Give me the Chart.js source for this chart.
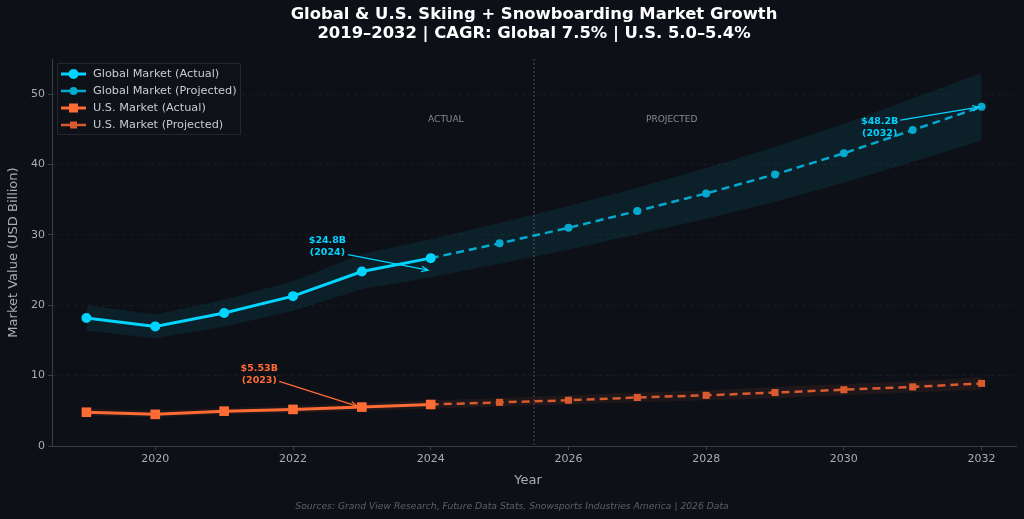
<!DOCTYPE html>
<html>
<head>
<meta charset="utf-8">
<script src="https://cdn.jsdelivr.net/npm/chart.js@4.4.1/dist/chart.umd.min.js"></script>
<style>
html,body{margin:0;padding:0;background:#0d1117;}
#wrap{width:1024px;height:519px;position:relative;}
</style>
</head>
<body>
<div id="wrap"><canvas id="c" width="1024" height="519"></canvas></div>
<script>
// ---- Data ----
const actualYears = [2019, 2020, 2021, 2022, 2023, 2024];
const projYears = [2024, 2025, 2026, 2027, 2028, 2029, 2030, 2031, 2032];
const allYears = [2019, 2020, 2021, 2022, 2023, 2024, 2025, 2026, 2027, 2028, 2029, 2030, 2031, 2032];

const globalActual = [18.2, 17.0, 18.9, 21.3, 24.8, 26.7];
const globalProj = [26.7, 28.8, 31.0, 33.4, 35.9, 38.6, 41.6, 44.9, 48.2];
const usActual = [4.8, 4.5, 4.95, 5.2, 5.53, 5.9];
const usProj = [5.9, 6.2, 6.5, 6.9, 7.2, 7.6, 8.0, 8.4, 8.9];

const globalBandUpper = [20.0, 18.7, 20.8, 23.4, 27.3, 29.4, 31.7, 34.1, 36.7, 39.5, 42.5, 45.8, 49.4, 53.0];
const globalBandLower = [16.4, 15.3, 17.0, 19.2, 22.3, 24.0, 25.9, 27.9, 30.1, 32.3, 34.7, 37.4, 40.4, 43.4];
const usBandUpper = [5.3, 5.0, 5.4, 5.7, 6.1, 6.5, 6.8, 7.2, 7.6, 7.9, 8.4, 8.8, 9.2, 9.8];
const usBandLower = [4.3, 4.1, 4.5, 4.7, 5.0, 5.3, 5.6, 5.9, 6.2, 6.5, 6.8, 7.2, 7.6, 8.0];

const xTicks = [2020, 2022, 2024, 2026, 2028, 2030, 2032];
const yTicks = [0, 10, 20, 30, 40, 50];

const titleLines = ["Global & U.S. Skiing + Snowboarding Market Growth", "2019–2032 | CAGR: Global 7.5% | U.S. 5.0–5.4%"];
const legendLabels = ["Global Market (Actual)", "Global Market (Projected)", "U.S. Market (Actual)", "U.S. Market (Projected)"];
const annotations = [
  {text: ["$24.8B", "(2024)"], tx: 2022.5, ty: 28.3, ax: 2022.8, ay: 27.2, hx: 2023.96, hy: 25.0, color: "#00d4ff"},
  {text: ["$5.53B", "(2023)"], tx: 2021.51, ty: 10.1, ax: 2021.8, ay: 9.2, hx: 2022.93, hy: 5.68, color: "#ff6b35"},
  {text: ["$48.2B", "(2032)"], tx: 2030.52, ty: 45.2, ax: 2030.82, ay: 46.3, hx: 2031.96, hy: 48.15, color: "#00d4ff"}
];
const splitYear = 2025.5;
const sourceText = "Sources: Grand View Research, Future Data Stats, Snowsports Industries America | 2026 Data";

const C_G = "#00d4ff", C_GP = "#05a9cf", C_U = "#ff6b35", C_UP = "#d85a2e";
const FONT = "'DejaVu Sans', sans-serif";

function pts(xs, ys){ return xs.map((x,i)=>({x:x, y:ys[i]})); }

const overlay = {
  id: 'overlay',
  beforeDatasetsDraw(chart){
    const {ctx, chartArea, scales:{x,y}} = chart;
    ctx.save();
    ctx.strokeStyle = "rgba(140,140,140,0.5)";
    ctx.lineWidth = 1;
    ctx.setLineDash([2,2]);
    const px = x.getPixelForValue(splitYear);
    ctx.beginPath(); ctx.moveTo(px, chartArea.top); ctx.lineTo(px, chartArea.bottom); ctx.stroke();
    ctx.restore();
    ctx.save();
    ctx.fillStyle = "#868b92";
    ctx.font = "9px " + FONT;
    ctx.textAlign = "center"; ctx.textBaseline = "middle";
    ctx.fillText("ACTUAL", x.getPixelForValue(2024.22), y.getPixelForValue(46.4));
    ctx.fillText("PROJECTED", x.getPixelForValue(2027.5), y.getPixelForValue(46.4));
    ctx.restore();
  },
  afterDraw(chart){
    const {ctx, chartArea, scales:{x,y}} = chart;
    ctx.save();
    ctx.fillStyle = "#ffffff";
    ctx.font = "bold 16.4px " + FONT;
    ctx.textAlign = "center"; ctx.textBaseline = "middle";
    const cx = (chartArea.left + chartArea.right)/2;
    ctx.fillText(titleLines[0], cx, 15);
    ctx.fillText(titleLines[1], cx, 33.5);
    ctx.fillStyle = "#a9adb3";
    ctx.font = "13px " + FONT;
    ctx.fillText("Year", cx - 6, 481);
    ctx.save();
    ctx.translate(14, (chartArea.top + chartArea.bottom)/2);
    ctx.rotate(-Math.PI/2);
    ctx.fillText("Market Value (USD Billion)", 0, 0);
    ctx.restore();
    ctx.fillStyle = "#5c6168";
    ctx.font = "italic 9.2px " + FONT;
    ctx.fillText(sourceText, 512, 507);

    annotations.forEach(a=>{
      const tx = x.getPixelForValue(a.tx), ty = y.getPixelForValue(a.ty);
      ctx.fillStyle = a.color;
      ctx.font = "bold 9.5px " + FONT;
      ctx.textAlign = "center"; ctx.textBaseline = "middle";
      ctx.fillText(a.text[0], tx, ty - 6);
      ctx.fillText(a.text[1], tx, ty + 6);
      const x0 = x.getPixelForValue(a.ax), y0 = y.getPixelForValue(a.ay);
      const x1 = x.getPixelForValue(a.hx), y1 = y.getPixelForValue(a.hy);
      ctx.strokeStyle = a.color; ctx.lineWidth = 1.3;
      ctx.beginPath(); ctx.moveTo(x0,y0); ctx.lineTo(x1,y1); ctx.stroke();
      const ang = Math.atan2(y1-y0, x1-x0);
      ctx.beginPath();
      ctx.moveTo(x1 - 7*Math.cos(ang - 0.4), y1 - 7*Math.sin(ang - 0.4));
      ctx.lineTo(x1, y1);
      ctx.lineTo(x1 - 7*Math.cos(ang + 0.4), y1 - 7*Math.sin(ang + 0.4));
      ctx.stroke();
    });

    const lx = 57, ly = 63, lw = 183, lh = 71;
    ctx.fillStyle = "rgba(14,18,24,0.9)";
    ctx.strokeStyle = "#22272e";
    ctx.lineWidth = 1;
    ctx.beginPath(); ctx.rect(lx+0.5, ly+0.5, lw, lh); ctx.fill(); ctx.stroke();
    const items = [
      {c: C_G, w: 3, mk: 'circle', r: 5},
      {c: C_GP, w: 2.5, mk: 'circle', r: 4},
      {c: C_U, w: 3, mk: 'rect', r: 4.5},
      {c: C_UP, w: 2.5, mk: 'rect', r: 3.5}
    ];
    items.forEach((it,i)=>{
      const yy = 74 + i*17;
      ctx.strokeStyle = it.c; ctx.lineWidth = it.w;
      ctx.beginPath(); ctx.moveTo(61, yy); ctx.lineTo(86, yy); ctx.stroke();
      ctx.fillStyle = it.c;
      if (it.mk === 'circle'){ ctx.beginPath(); ctx.arc(73.5, yy, it.r, 0, Math.PI*2); ctx.fill(); }
      else { ctx.fillRect(73.5 - it.r, yy - it.r, it.r*2, it.r*2); }
      ctx.fillStyle = "#c9ccd1";
      ctx.font = "11.3px " + FONT;
      ctx.textAlign = "left"; ctx.textBaseline = "middle";
      ctx.fillText(legendLabels[i], 93, yy + 0.5);
    });
    ctx.restore();
  }
};

new Chart(document.getElementById('c'), {
  type: 'line',
  data: {
    datasets: [
      {data: pts(allYears, globalBandUpper), borderWidth: 0, pointRadius: 0, fill: false, order: 10},
      {data: pts(allYears, globalBandLower), borderWidth: 0, pointRadius: 0, fill: '-1', backgroundColor: 'rgba(0,212,255,0.08)', order: 10},
      {data: pts(allYears, usBandUpper), borderWidth: 0, pointRadius: 0, fill: false, order: 10},
      {data: pts(allYears, usBandLower), borderWidth: 0, pointRadius: 0, fill: '-1', backgroundColor: 'rgba(255,107,53,0.08)', order: 10},
      {label: legendLabels[1], data: pts(projYears, globalProj), borderColor: C_GP, backgroundColor: C_GP, borderWidth: 2.5, borderDash: [8,5], pointRadius: 4, pointBorderWidth: 0, pointStyle: 'circle', fill: false, order: 4},
      {label: legendLabels[3], data: pts(projYears, usProj), borderColor: C_UP, backgroundColor: C_UP, borderWidth: 2.5, borderDash: [8,5], pointRadius: 5, pointBorderWidth: 0, pointStyle: 'rect', fill: false, order: 3},
      {label: legendLabels[0], data: pts(actualYears, globalActual), borderColor: C_G, backgroundColor: C_G, borderWidth: 3, pointRadius: 5, pointBorderWidth: 0, pointStyle: 'circle', fill: false, order: 2},
      {label: legendLabels[2], data: pts(actualYears, usActual), borderColor: C_U, backgroundColor: C_U, borderWidth: 3, pointRadius: 6.8, pointBorderWidth: 0, pointStyle: 'rect', fill: false, order: 1}
    ]
  },
  options: {
    responsive: false,
    animation: false,
    devicePixelRatio: 1,
    layout: {padding: {left: 0, right: 8, top: 59, bottom: 0}},
    plugins: {legend: {display: false}, title: {display: false}, tooltip: {enabled: false}},
    elements: {line: {tension: 0}},
    scales: {
      x: {
        type: 'linear', min: 2018.5, max: 2032.5,
        afterBuildTicks(s){ s.ticks = xTicks.map(v=>({value: v})); },
        afterFit(s){ s.height = 73; },
        ticks: {color: '#a9adb3', font: {family: FONT, size: 11}, padding: 3, maxRotation: 0, callback: v => String(v)},
        grid: {display: true, drawOnChartArea: false, drawTicks: true, tickLength: 4, color: '#3a3f46'},
        border: {display: true, color: '#3a3f46', width: 1}
      },
      y: {
        min: 0, max: 55,
        afterBuildTicks(s){ s.ticks = yTicks.map(v=>({value: v})); },
        afterFit(s){ s.width = 52; },
        ticks: {color: '#a9adb3', font: {family: FONT, size: 11}, padding: 3},
        grid: {display: true, drawOnChartArea: true, drawTicks: true, tickLength: 4, color: 'rgba(255,255,255,0.05)', tickColor: '#3a3f46'},
        border: {display: true, color: '#3a3f46', width: 1, dash: [3,4]}
      }
    }
  },
  plugins: [overlay]
});
</script>
</body>
</html>
